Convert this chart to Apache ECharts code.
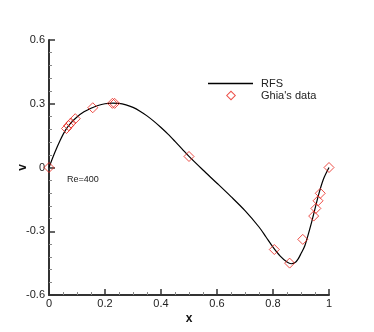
<!DOCTYPE html>
<html>
<head>
<meta charset="utf-8">
<script src="https://cdn.jsdelivr.net/npm/echarts@6/dist/echarts.min.js"></script>
<style>
  html, body { margin: 0; padding: 0; background: #fff; }
  #chart { width: 374px; height: 332px; }
</style>
</head>
<body>
<div id="chart"></div>
<script>
// RFS solution, v along the horizontal centreline
const rfsX = [0, 0.02, 0.04, 0.06, 0.08, 0.10, 0.125, 0.15, 0.175, 0.2, 0.225, 0.25, 0.275, 0.3,
  0.325, 0.35, 0.375, 0.4, 0.425, 0.45, 0.475, 0.5, 0.55, 0.6, 0.65, 0.7, 0.75, 0.775, 0.8, 0.825,
  0.85, 0.865, 0.88, 0.89, 0.9, 0.914, 0.938, 0.962, 0.98, 1.0];
const rfsV = [0, 0.068, 0.128, 0.178, 0.212, 0.238, 0.262, 0.279, 0.292, 0.3, 0.303, 0.302, 0.295, 0.283,
  0.265, 0.243, 0.217, 0.188, 0.157, 0.123, 0.088, 0.052, -0.012, -0.074, -0.137, -0.203, -0.28, -0.327, -0.375, -0.416,
  -0.445, -0.453, -0.446, -0.43, -0.405, -0.367, -0.257, -0.132, -0.055, 0];

// Ghia et al. benchmark points, Re = 400
const ghiaX = [1.0, 0.9688, 0.9609, 0.9531, 0.9453, 0.9063, 0.8594, 0.8047, 0.5, 0.2344,
  0.2266, 0.1563, 0.0938, 0.0781, 0.0703, 0.0625, 0.0];
const ghiaV = [0.0, -0.12146, -0.15663, -0.19254, -0.22847, -0.33827, -0.44993, -0.38598, 0.05186, 0.30174,
  0.30203, 0.28124, 0.22965, 0.2092, 0.19713, 0.1836, 0.0];

const xTicks = [0, 0.2, 0.4, 0.6, 0.8, 1];
const yTicks = [-0.6, -0.3, 0, 0.3, 0.6];

const font = 'Liberation Sans, Arial, sans-serif';
const red = '#e8231a';
// hollow diamond outline for the legend (outer shape + reversed inner hole)
const hollowDiamond = 'path://M5,0L10,5L5,10L0,5ZM5,1.4L1.4,5L5,8.6L8.6,5Z';
const chart = echarts.init(document.getElementById('chart'));

const fmt = v => String(+v.toFixed(2));
const axisCommon = {
  axisTick: { inside: true, length: 6, lineStyle: { color: '#333', width: 1.5 } },
  splitLine: { show: false },
  nameMoveOverlap: false,
  nameTextStyle: { color: '#111', fontFamily: font, fontSize: 12, fontWeight: 'bold' }
};

chart.setOption({
  animation: false,
  backgroundColor: '#fff',
  grid: { left: 49, right: 45, top: 40, bottom: 37, containLabel: false, outerBoundsMode: 'none' },
  title: {
    text: 'Re=400',
    left: 62, top: 170,
    textStyle: { fontFamily: font, fontSize: 9, fontWeight: 'normal', color: '#222' }
  },
  legend: [
    {
      left: 203, top: 73,
      icon: 'rect', itemWidth: 45, itemHeight: 1.5,
      itemStyle: { color: '#000', borderWidth: 0 },
      textStyle: { fontFamily: font, fontSize: 11, color: '#222', padding: [0, 0, 0, 3] },
      data: ['RFS']
    },
    {
      left: 221, top: 85,
      itemWidth: 10, itemHeight: 10,
      icon: hollowDiamond,
      itemStyle: { color: red, borderWidth: 0 },
      textStyle: { fontFamily: font, fontSize: 11, color: '#222', padding: [0, 0, 0, 20] },
      data: ["Ghia's data"]
    }
  ],
  xAxis: Object.assign({}, axisCommon, {
    type: 'value', min: xTicks[0], max: xTicks[xTicks.length - 1], interval: 0.2,
    name: 'x', nameLocation: 'middle', nameGap: 18,
    axisLine: { onZero: false, lineStyle: { color: '#333', width: 2 } },
    minorTick: { show: true, splitNumber: 4, length: 3, lineStyle: { color: '#888', width: 1 } },
    axisLabel: { color: '#222', fontFamily: font, fontSize: 11, margin: 3, formatter: fmt }
  }),
  yAxis: Object.assign({}, axisCommon, {
    type: 'value', min: yTicks[0], max: yTicks[yTicks.length - 1], interval: 0.3,
    name: 'v', nameLocation: 'middle', nameGap: 20, nameRotate: 90,
    axisLine: { onZero: false, lineStyle: { color: '#333', width: 2 } },
    minorTick: { show: true, splitNumber: 5, length: 3, lineStyle: { color: '#888', width: 1 } },
    axisLabel: { color: '#222', fontFamily: font, fontSize: 11, margin: 4, formatter: fmt }
  }),
  series: [
    {
      name: 'RFS', type: 'line', smooth: 0.3, symbol: 'none',
      lineStyle: { color: '#000', width: 1.2 },
      itemStyle: { color: '#000' },
      data: rfsX.map((x, i) => [x, rfsV[i]])
    },
    {
      name: "Ghia's data", type: 'scatter', symbol: 'diamond', symbolSize: 10, clip: false,
      itemStyle: { color: 'rgba(255,255,255,0)', borderColor: red, borderWidth: 1 },
      data: ghiaX.map((x, i) => [x, ghiaV[i]]),
      z: 3
    }
  ]
});
</script>
</body>
</html>
